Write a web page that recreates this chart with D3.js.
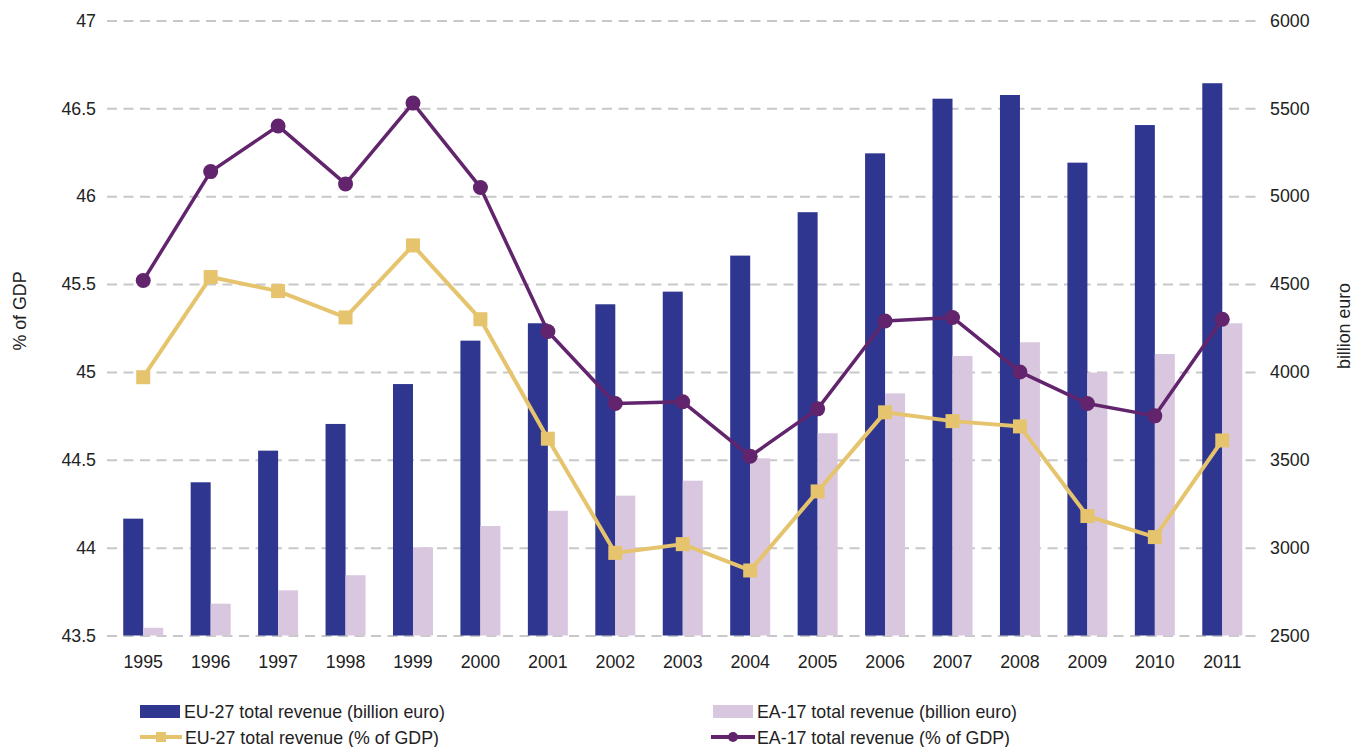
<!DOCTYPE html>
<html>
<head>
<meta charset="utf-8">
<script src="https://cdn.jsdelivr.net/npm/d3@7"></script>
<style>
  html, body { margin: 0; padding: 0; background: #fff; }
  svg { display: block; font-family: "Liberation Sans", Arial, sans-serif; }
</style>
</head>
<body>
<svg id="chart" width="1353" height="747"></svg>
<script>
const years = ["1995","1996","1997","1998","1999","2000","2001","2002","2003","2004","2005","2006","2007","2008","2009","2010","2011"];
const eu27Billion = [3165, 3372, 3552, 3704, 3931, 4178, 4277, 4385, 4457, 4662, 4909, 5244, 5555, 5576, 5191, 5405, 5643];
const ea17Billion = [2544, 2681, 2757, 2843, 3002, 3123, 3210, 3296, 3381, 3508, 3651, 3878, 4091, 4169, 3996, 4102, 4277];
const eu27Pct = [44.97, 45.54, 45.46, 45.31, 45.72, 45.30, 44.62, 43.97, 44.02, 43.87, 44.32, 44.77, 44.72, 44.69, 44.18, 44.06, 44.61];
const ea17Pct = [45.52, 46.14, 46.40, 46.07, 46.53, 46.05, 45.23, 44.82, 44.83, 44.52, 44.79, 45.29, 45.31, 45.00, 44.82, 44.75, 45.30];
const leftTicks = [43.5, 44, 44.5, 45, 45.5, 46, 46.5, 47];
const rightTicks = [2500, 3000, 3500, 4000, 4500, 5000, 5500, 6000];
const barSeries = ["EU-27 total revenue (billion euro)", "EA-17 total revenue (billion euro)"];
const lineSeries = ["EU-27 total revenue (% of GDP)", "EA-17 total revenue (% of GDP)"];
const axisTitles = ["% of GDP", "billion euro"];

const C = { eu: "#2e368f", ea: "#d9c7e0", euLine: "#e6c46e", eaLine: "#62246c", grid: "#c8c8c8", text: "#222" };
const FS = "17.8px";

const svg = d3.select("#chart");
const plotLeft = 107, plotRight = 1257, plotTop = 20.5, plotBottom = 635.5;

const x = d3.scaleBand().domain(years).range([109.5, 1256]).paddingInner(0.407).paddingOuter(0.2035);
const x1 = d3.scaleBand().domain([0, 1]).range([0, x.bandwidth()]);
const yL = d3.scaleLinear().domain([43.5, 47]).range([plotBottom, plotTop]);
const yR = d3.scaleLinear().domain([2500, 6000]).range([plotBottom, plotTop]);

// gridlines
const grid = svg.append("g").attr("transform", `translate(${plotLeft},0)`)
  .call(d3.axisLeft(yL).tickValues(leftTicks).tickSize(-(plotRight - plotLeft)).tickFormat(""));
grid.select(".domain").remove();
grid.selectAll("line").attr("stroke", C.grid).attr("stroke-width", 2).attr("stroke-dasharray", "10,6.5");

// bars
const groups = svg.append("g").selectAll("g").data(years).join("g")
  .attr("transform", d => `translate(${x(d)},0)`);
groups.append("rect")
  .attr("x", x1(0)).attr("width", x1.bandwidth())
  .attr("y", (d, i) => yR(eu27Billion[i])).attr("height", (d, i) => plotBottom - yR(eu27Billion[i]))
  .attr("fill", C.eu);
groups.append("rect")
  .attr("x", x1(1)).attr("width", x1.bandwidth())
  .attr("y", (d, i) => yR(ea17Billion[i])).attr("height", (d, i) => plotBottom - yR(ea17Billion[i]))
  .attr("fill", C.ea);

const cx = d => x(d) + x.bandwidth() / 2;

// lines
const lineGen = vals => d3.line().x(d => cx(d)).y((d, i) => yL(vals[i]));
svg.append("path").datum(years).attr("d", lineGen(eu27Pct))
  .attr("fill", "none").attr("stroke", C.euLine).attr("stroke-width", 4).attr("stroke-linejoin", "round");
svg.append("g").selectAll("rect").data(years).join("rect")
  .attr("x", d => cx(d) - 7).attr("y", (d, i) => yL(eu27Pct[i]) - 7)
  .attr("width", 14).attr("height", 14).attr("fill", C.euLine);

svg.append("path").datum(years).attr("d", lineGen(ea17Pct))
  .attr("fill", "none").attr("stroke", C.eaLine).attr("stroke-width", 3.5).attr("stroke-linejoin", "round");
svg.append("g").selectAll("circle").data(years).join("circle")
  .attr("cx", d => cx(d)).attr("cy", (d, i) => yL(ea17Pct[i]))
  .attr("r", 7.5).attr("fill", C.eaLine);

// axes
function styleAxis(g) {
  g.select(".domain").remove();
  g.selectAll("line").remove();
  g.selectAll("text").attr("fill", C.text).style("font-size", FS).style("font-family", '"Liberation Sans", Arial, sans-serif');
}
svg.append("g").attr("transform", `translate(${plotLeft},0)`)
  .call(d3.axisLeft(yL).tickValues(leftTicks).tickSize(0).tickPadding(11).tickFormat(d => String(d)))
  .call(styleAxis);
svg.append("g").attr("transform", `translate(${plotRight},0)`)
  .call(d3.axisRight(yR).tickValues(rightTicks).tickSize(0).tickPadding(13).tickFormat(d => String(d)))
  .call(styleAxis);
svg.append("g").attr("transform", `translate(0,${plotBottom})`)
  .call(d3.axisBottom(x).tickSize(0).tickPadding(19.5))
  .call(styleAxis);

// axis titles
svg.append("text").attr("transform", "translate(26,311) rotate(-90)").attr("text-anchor", "middle")
  .attr("fill", C.text).style("font-size", FS).text(axisTitles[0]);
svg.append("text").attr("transform", "translate(1350,326) rotate(-90)").attr("text-anchor", "middle")
  .attr("fill", C.text).style("font-size", FS).text(axisTitles[1]);

// legend
const lg = svg.append("g");
lg.append("rect").attr("x", 140).attr("y", 705).attr("width", 40).attr("height", 13).attr("fill", C.eu);
lg.append("text").attr("x", 184).attr("y", 718).attr("fill", C.text).style("font-size", FS).text(barSeries[0]);
lg.append("rect").attr("x", 713).attr("y", 705).attr("width", 40).attr("height", 13).attr("fill", C.ea);
lg.append("text").attr("x", 757).attr("y", 718).attr("fill", C.text).style("font-size", FS).text(barSeries[1]);

lg.append("line").attr("x1", 140).attr("x2", 182).attr("y1", 737).attr("y2", 737).attr("stroke", C.euLine).attr("stroke-width", 4);
lg.append("rect").attr("x", 156).attr("y", 732).attr("width", 10).attr("height", 10).attr("fill", C.euLine);
lg.append("text").attr("x", 185).attr("y", 744).attr("fill", C.text).style("font-size", FS).text(lineSeries[0]);
lg.append("line").attr("x1", 711).attr("x2", 755).attr("y1", 737).attr("y2", 737).attr("stroke", C.eaLine).attr("stroke-width", 4);
lg.append("circle").attr("cx", 733).attr("cy", 737).attr("r", 5).attr("fill", C.eaLine);
lg.append("text").attr("x", 757).attr("y", 744).attr("fill", C.text).style("font-size", FS).text(lineSeries[1]);
</script>
</body>
</html>
